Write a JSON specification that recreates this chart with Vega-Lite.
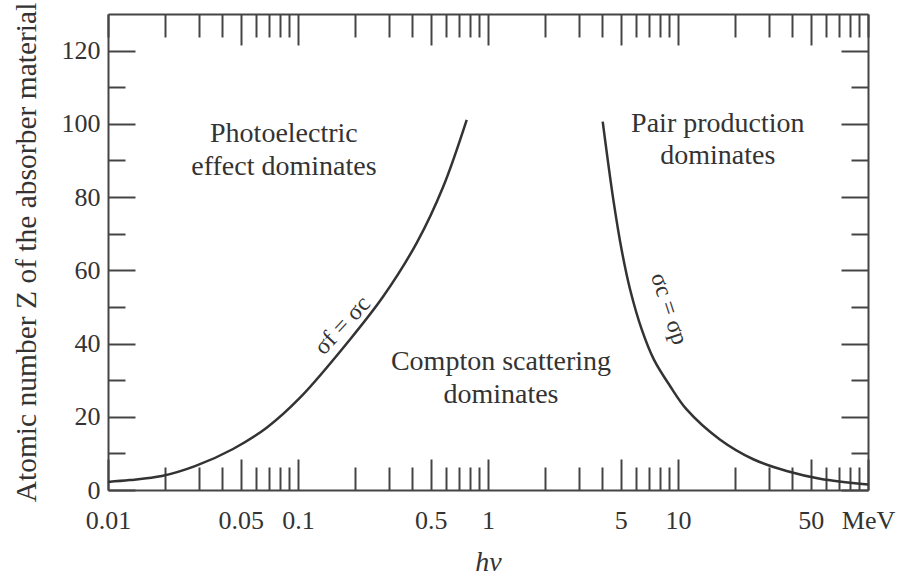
{
  "$schema": "https://vega.github.io/schema/vega-lite/v6.json",
  "width": 760,
  "height": 476,
  "autosize": "none",
  "padding": {"left": 108, "top": 14, "right": 33, "bottom": 89},
  "background": "white",
  "config": {
    "view": {"stroke": null},
    "font": "Liberation Serif",
    "axis": {
      "domainColor": "#444",
      "domainWidth": 2,
      "tickColor": "#444",
      "tickWidth": 2,
      "labelFont": "Liberation Serif",
      "labelFontSize": 26,
      "labelColor": "#333",
      "titleFont": "Liberation Serif",
      "titleFontWeight": "normal",
      "titleColor": "#333",
      "grid": false,
      "labelFlush": false,
      "labelOverlap": false
    }
  },
  "datasets": {
    "curves": [
      {"series": "pe", "E": 0.01, "Z": 2.2},
      {"series": "pe", "E": 0.013, "Z": 2.7},
      {"series": "pe", "E": 0.0192, "Z": 3.8},
      {"series": "pe", "E": 0.0287, "Z": 6.5},
      {"series": "pe", "E": 0.0455, "Z": 11.2},
      {"series": "pe", "E": 0.0684, "Z": 17.0},
      {"series": "pe", "E": 0.1025, "Z": 25.2},
      {"series": "pe", "E": 0.1878, "Z": 41.1},
      {"series": "pe", "E": 0.2812, "Z": 52.9},
      {"series": "pe", "E": 0.4216, "Z": 67.5},
      {"series": "pe", "E": 0.5817, "Z": 82.9},
      {"series": "pe", "E": 0.7725, "Z": 101.1},
      {"series": "pp", "E": 4.015, "Z": 100.6},
      {"series": "pp", "E": 4.566, "Z": 79.3},
      {"series": "pp", "E": 5.05, "Z": 65.6},
      {"series": "pp", "E": 5.6, "Z": 54.7},
      {"series": "pp", "E": 6.45, "Z": 43.8},
      {"series": "pp", "E": 7.47, "Z": 35.6},
      {"series": "pp", "E": 9.08, "Z": 28.4},
      {"series": "pp", "E": 11.1, "Z": 22.0},
      {"series": "pp", "E": 16.6, "Z": 13.8},
      {"series": "pp", "E": 24.9, "Z": 8.4},
      {"series": "pp", "E": 37.3, "Z": 5.2},
      {"series": "pp", "E": 55.9, "Z": 3.1},
      {"series": "pp", "E": 100, "Z": 1.5}
    ],
    "regions": [
      {"E": 0.0843, "Z": 97.3, "text": "Photoelectric"},
      {"E": 0.0843, "Z": 88.1, "text": "effect dominates"},
      {"E": 16.2, "Z": 100, "text": "Pair production"},
      {"E": 16.2, "Z": 91.1, "text": "dominates"},
      {"E": 1.17, "Z": 35.0, "text": "Compton scattering"},
      {"E": 1.17, "Z": 25.9, "text": "dominates"}
    ],
    "label_left": [{"E": 0.1714, "Z": 44.9, "text": "σf = σc"}],
    "label_right": [{"E": 8.95, "Z": 49.5, "text": "σc = σp"}]
  },
  "resolve": {"axis": {"x": "independent", "y": "independent"}},
  "layer": [
    {
      "data": {"name": "curves"},
      "mark": {"type": "line", "color": "#333", "strokeWidth": 2.5, "interpolate": "catmull-rom"},
      "encoding": {
        "detail": {"field": "series"},
        "x": {
          "field": "E", "type": "quantitative",
          "scale": {"type": "log", "domain": [0.01, 100], "nice": false},
          "axis": {
            "orient": "bottom",
            "title": "hν",
            "titleFontStyle": "italic",
            "titleFontSize": 28,
            "titlePadding": 7,
            "values": [0.01,0.02,0.03,0.04,0.05,0.06,0.07,0.08,0.09,0.1,0.2,0.3,0.4,0.5,0.6,0.7,0.8,0.9,1,2,3,4,5,6,7,8,9,10,20,30,40,50,60,70,80,90,100],
            "labelExpr": "datum.value == 100 ? 'MeV' : (indexof([0.01,0.05,0.1,0.5,1,5,10,50], datum.value) >= 0 ? format(datum.value, '~g') : '')",
            "tickSize": {"condition": {"test": "indexof([0.01,0.05,0.1,0.5,1,5,10,50,100], datum.value) >= 0", "value": -31}, "value": -23},
            "labelPadding": 48
          }
        },
        "y": {
          "field": "Z", "type": "quantitative",
          "scale": {"domain": [0, 130], "nice": false, "zero": true},
          "axis": {
            "orient": "left",
            "title": "Atomic number Z of the absorber material",
            "titleFontSize": 29.5,
            "titlePadding": 20,
            "values": [0,10,20,30,40,50,60,70,80,90,100,110,120],
            "labelExpr": "datum.value % 20 == 0 ? datum.label : ''",
            "tickSize": {"condition": {"test": "datum.value % 20 == 0", "value": -27}, "value": -17},
            "labelPadding": 35
          }
        }
      }
    },
    {
      "data": {"name": "regions"},
      "mark": {"type": "text", "font": "Liberation Serif", "fontSize": 28, "color": "#333", "align": "center", "baseline": "middle"},
      "encoding": {
        "text": {"field": "text"},
        "x": {
          "field": "E", "type": "quantitative",
          "scale": {"type": "log", "domain": [0.01, 100], "nice": false},
          "axis": {
            "orient": "top",
            "title": null,
            "labels": false,
            "values": [0.01,0.02,0.03,0.04,0.05,0.06,0.07,0.08,0.09,0.1,0.2,0.3,0.4,0.5,0.6,0.7,0.8,0.9,1,2,3,4,5,6,7,8,9,10,20,30,40,50,60,70,80,90,100],
            "tickSize": {"condition": {"test": "indexof([0.05,0.1,0.5,1,5,10,50], datum.value) >= 0", "value": -31}, "value": -23}
          }
        },
        "y": {
          "field": "Z", "type": "quantitative",
          "scale": {"domain": [0, 130], "nice": false, "zero": true},
          "axis": {
            "orient": "right",
            "title": null,
            "labels": false,
            "values": [0,10,20,30,40,50,60,70,80,90,100,110,120],
            "tickSize": {"condition": {"test": "datum.value % 20 == 0", "value": -27}, "value": -17}
          }
        }
      }
    },
    {
      "data": {"name": "label_left"},
      "mark": {"type": "text", "font": "Liberation Serif", "fontSize": 24, "color": "#333", "align": "center", "baseline": "middle", "angle": -47},
      "encoding": {
        "text": {"field": "text"},
        "x": {"field": "E", "type": "quantitative", "scale": {"type": "log", "domain": [0.01, 100], "nice": false}, "axis": null},
        "y": {"field": "Z", "type": "quantitative", "scale": {"domain": [0, 130], "nice": false, "zero": true}, "axis": null}
      }
    },
    {
      "data": {"name": "label_right"},
      "mark": {"type": "text", "font": "Liberation Serif", "fontSize": 24, "color": "#333", "align": "center", "baseline": "middle", "angle": 72},
      "encoding": {
        "text": {"field": "text"},
        "x": {"field": "E", "type": "quantitative", "scale": {"type": "log", "domain": [0.01, 100], "nice": false}, "axis": null},
        "y": {"field": "Z", "type": "quantitative", "scale": {"domain": [0, 130], "nice": false, "zero": true}, "axis": null}
      }
    }
  ]
}
